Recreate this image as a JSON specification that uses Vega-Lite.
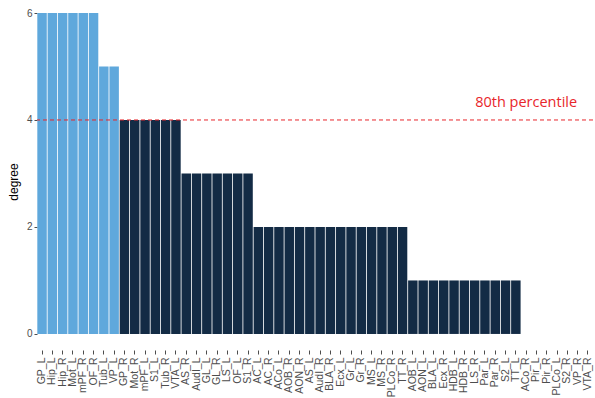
{
  "$schema": "https://vega.github.io/schema/vega-lite/v6.json",
  "width": 556,
  "height": 337,
  "autosize": "none",
  "padding": {"left": 37, "top": 13, "right": 2, "bottom": 48},
  "background": "white",
  "config": {"view": {"stroke": null}, "font": "Liberation Sans"},
  "datasets": {
    "bars": [
      {"region": "GP_L", "degree": 6, "group": "hub"},
      {"region": "Hip_L", "degree": 6, "group": "hub"},
      {"region": "Hip_R", "degree": 6, "group": "hub"},
      {"region": "Mot_L", "degree": 6, "group": "hub"},
      {"region": "mPF_R", "degree": 6, "group": "hub"},
      {"region": "OF_R", "degree": 6, "group": "hub"},
      {"region": "Tub_L", "degree": 5, "group": "hub"},
      {"region": "VP_L", "degree": 5, "group": "hub"},
      {"region": "GP_R", "degree": 4, "group": "other"},
      {"region": "Mot_R", "degree": 4, "group": "other"},
      {"region": "mPF_L", "degree": 4, "group": "other"},
      {"region": "S1_L", "degree": 4, "group": "other"},
      {"region": "Tub_R", "degree": 4, "group": "other"},
      {"region": "VTA_L", "degree": 4, "group": "other"},
      {"region": "AS_R", "degree": 3, "group": "other"},
      {"region": "AudI_L", "degree": 3, "group": "other"},
      {"region": "GL_L", "degree": 3, "group": "other"},
      {"region": "GL_R", "degree": 3, "group": "other"},
      {"region": "LS_L", "degree": 3, "group": "other"},
      {"region": "OF_L", "degree": 3, "group": "other"},
      {"region": "S1_R", "degree": 3, "group": "other"},
      {"region": "AC_L", "degree": 2, "group": "other"},
      {"region": "AC_R", "degree": 2, "group": "other"},
      {"region": "ACo_L", "degree": 2, "group": "other"},
      {"region": "AOB_R", "degree": 2, "group": "other"},
      {"region": "AON_R", "degree": 2, "group": "other"},
      {"region": "AS_L", "degree": 2, "group": "other"},
      {"region": "AudI_R", "degree": 2, "group": "other"},
      {"region": "BLA_R", "degree": 2, "group": "other"},
      {"region": "Ecx_L", "degree": 2, "group": "other"},
      {"region": "Gr_L", "degree": 2, "group": "other"},
      {"region": "Gr_R", "degree": 2, "group": "other"},
      {"region": "MS_L", "degree": 2, "group": "other"},
      {"region": "MS_R", "degree": 2, "group": "other"},
      {"region": "PLCo_R", "degree": 2, "group": "other"},
      {"region": "TT_R", "degree": 2, "group": "other"},
      {"region": "AOB_L", "degree": 1, "group": "other"},
      {"region": "AON_L", "degree": 1, "group": "other"},
      {"region": "BLA_L", "degree": 1, "group": "other"},
      {"region": "Ecx_R", "degree": 1, "group": "other"},
      {"region": "HDB_L", "degree": 1, "group": "other"},
      {"region": "HDB_R", "degree": 1, "group": "other"},
      {"region": "LS_R", "degree": 1, "group": "other"},
      {"region": "Par_L", "degree": 1, "group": "other"},
      {"region": "Par_R", "degree": 1, "group": "other"},
      {"region": "S2_L", "degree": 1, "group": "other"},
      {"region": "TT_L", "degree": 1, "group": "other"},
      {"region": "ACo_R", "degree": 0, "group": "other"},
      {"region": "Pir_L", "degree": 0, "group": "other"},
      {"region": "Pir_R", "degree": 0, "group": "other"},
      {"region": "PLCo_L", "degree": 0, "group": "other"},
      {"region": "S2_R", "degree": 0, "group": "other"},
      {"region": "VP_R", "degree": 0, "group": "other"},
      {"region": "VTA_R", "degree": 0, "group": "other"}
    ],
    "note": [
      {"region": "ACo_R", "degree": 4.32, "label": "80th percentile"}
    ],
    "threshold": [
      {"degree": 4}
    ]
  },
  "layer": [
    {
      "data": {"name": "bars"},
      "mark": {"type": "bar"},
      "encoding": {
        "x": {
          "field": "region", "type": "nominal", "sort": null,
          "scale": {"paddingInner": 0.08, "paddingOuter": 0.03},
          "axis": {
            "title": null, "labelAngle": -90, "labelAlign": "right", "labelBaseline": "middle",
            "labelFontSize": 10.5, "labelColor": "#4d4d4d", "labelPadding": 3,
            "domain": false, "ticks": true, "tickColor": "#4d4d4d", "tickSize": 4
          }
        },
        "y": {
          "field": "degree", "type": "quantitative",
          "scale": {"domain": [-0.3, 6], "nice": false, "zero": false},
          "axis": {
            "title": "degree", "titleFontSize": 12, "titleFontWeight": "normal", "titleColor": "black",
            "titlePadding": 6, "format": "d",
            "values": [0, 2, 4, 6], "grid": false, "domain": false,
            "labelColor": "#4d4d4d", "labelFontSize": 10, "tickColor": "#4d4d4d", "tickSize": 3
          }
        },
        "color": {
          "field": "group", "type": "nominal",
          "scale": {"domain": ["hub", "other"], "range": ["#5fa8dc", "#132b45"]},
          "legend": null
        }
      }
    },
    {
      "data": {"name": "threshold"},
      "mark": {"type": "rule", "color": "#e8262b", "strokeDash": [4, 3], "strokeWidth": 1},
      "encoding": {"y": {"field": "degree", "type": "quantitative"}}
    },
    {
      "data": {"name": "note"},
      "mark": {"type": "text", "color": "#e8262b", "fontSize": 14.5, "font": "Open Sans", "align": "center", "baseline": "middle"},
      "encoding": {
        "x": {"field": "region", "type": "nominal", "sort": null},
        "y": {"field": "degree", "type": "quantitative"},
        "text": {"field": "label"}
      }
    }
  ]
}
